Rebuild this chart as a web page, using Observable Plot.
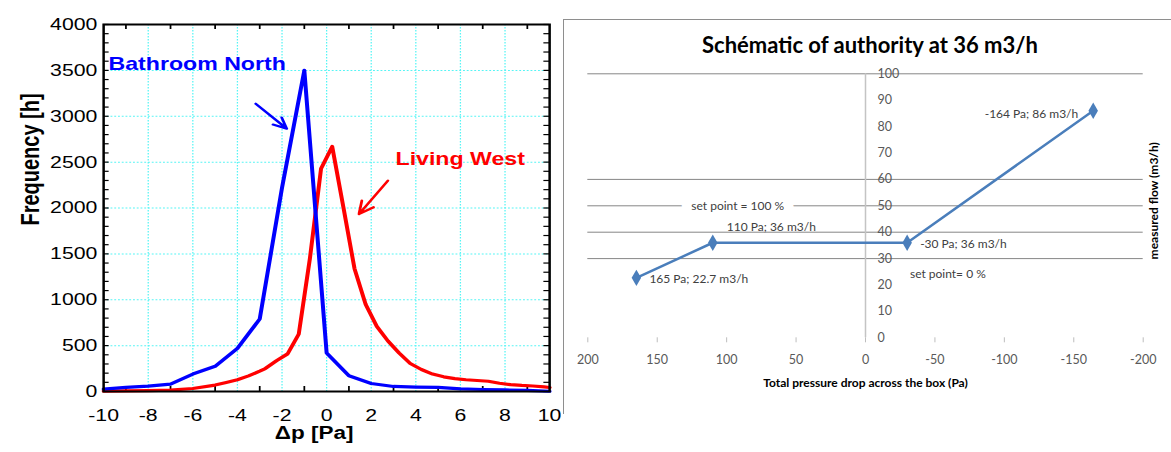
<!DOCTYPE html>
<html><head><meta charset="utf-8">
<script src="https://cdn.jsdelivr.net/npm/d3@7"></script>
<script src="https://cdn.jsdelivr.net/npm/@observablehq/plot@0.6"></script>
<style>
html,body{margin:0;padding:0;background:#fff}
body{width:1171px;height:452px;overflow:hidden;position:relative;font-family:"Liberation Sans",Arial,sans-serif}
#left{position:absolute;left:0;top:0;transform:scaleX(1.25);transform-origin:0 0}
#right{position:absolute;left:563px;top:0}
#box{position:absolute;left:563px;top:19px;width:700px;height:394px;border-left:1px solid #8e8e8e;border-top:1px solid #8e8e8e;pointer-events:none}
#title{position:absolute;left:566px;width:608px;top:31px;text-align:center;font:bold 22px Lato,"Open Sans",sans-serif;color:#000;white-space:nowrap}
svg{background:transparent}
</style></head><body>
<div id="left"></div><div id="right"></div><div id="box"></div>
<div id="title">Schématic of authority at 36 m3/h</div>
<script>
// ---------- Left panel: frequency distributions ----------
const dpBathroom   = [-10,-9,-8,-7,-6,-5,-4,-3,-2,-1,0,1,2,3,4,5,6,7,8,9,10];
const freqBathroom = [25,45,58,80,190,275,470,790,2220,3500,420,171,87,55,48,44,28,22,17,12,3];
const dpLiving   = [-10,-9,-8,-7,-6,-5,-4.5,-4,-3.5,-3,-2.75,-2.25,-1.75,-1.25,-0.75,-0.25,0.25,0.75,1.25,1.75,2.25,2.75,3.25,3.75,4.25,4.75,5.25,5.75,6.25,6.75,7.25,7.75,8.25,8.75,9.25,9.75,10];
const freqLiving = [5,7,10,15,33,70,98,128,170,222,250,335,410,625,1450,2430,2670,2010,1340,950,710,550,420,305,240,190,160,140,128,120,112,90,75,66,60,50,44];
const seriesNames = ["Bathroom North", "Living West"];
const xTickLabels = [-10,-8,-6,-4,-2,0,2,4,6,8,10];
const xMinorTicks = [-9,-7,-5,-3,-1,1,3,5,7,9];
const yTickLabels = [0,500,1000,1500,2000,2500,3000,3500,4000];
const yMinorTicks = d3.range(0, 4001, 100);
const leftAxisTitles = ["Frequency [h]", "Δp [Pa]"];
// annotation anchors in data units
const nameAt  = [{x:-9.78, y:3574}, {x:3.09, y:2538}];
const arrowAt = [{x1:-3.18, y1:3137, x2:-1.79, y2:2865}, {x1:2.75, y1:2298, x2:1.45, y2:1934}];

// ---------- Right panel: authority schematic ----------
const pressure = [165, 110, -30, -164];
const flow = [22.7, 36, 36, 86];
const pointLabels = ["165 Pa; 22.7 m3/h", "110 Pa; 36 m3/h", "-30 Pa; 36 m3/h", "-164 Pa; 86 m3/h"];
const xTicksR = [200,150,100,50,0,-50,-100,-150,-200];
const yTicksR = [0,10,20,30,40,50,60,70,80,90,100];
const gridR = [30,40,50,60,100];
const setPointLabels = ["set point = 100 %", "set point= 0 %"];
const setPointAt = [{x:92, y:50}, {x:-32, y:24}];
const rightAxisTitles = ["Total pressure drop across the box (Pa)", "measured flow (m3/h)"];

const blue = "#0000ff", red = "#ff0000";
const bathroom = dpBathroom.map((d,i)=>({dp:d, f:freqBathroom[i]}));
const living = dpLiving.map((d,i)=>({dp:d, f:freqLiving[i]}));
const W0 = 452, mL = 82.4, mR = 12.8, mT = 24, mB = 61;
const fw = W0 - mL - mR, fh = 452 - mT - mB;
const grid = {stroke:"#55f5f5", strokeOpacity:1, strokeDasharray:"1.5,1.5", strokeWidth:1};

const leftPlot = Plot.plot({
  width: W0, height: 452, marginLeft: mL, marginRight: mR, marginTop: mT, marginBottom: mB,
  style: {background:"transparent", fontFamily:"'Liberation Sans', Arial, sans-serif", fontSize:"17px", color:"#000"},
  x: {domain:[-10,10], ticks:xTickLabels, tickFormat:d=>String(d), tickSize:0, tickPadding:17, label:null},
  y: {domain:[0,4000], ticks:yTickLabels, tickFormat:d=>String(d), tickSize:0, tickPadding:5, label:null},
  marks: [
    Plot.gridX(xTickLabels, grid),
    Plot.gridY(yTickLabels, grid),
    Plot.tickX(xMinorTicks, {x:d=>d, insetTop: fh-5, stroke:"#000", strokeWidth:1.4}),
    Plot.tickX(xMinorTicks, {x:d=>d, insetBottom: fh-5, stroke:"#000", strokeWidth:1.4}),
    Plot.tickY(yMinorTicks, {y:d=>d, insetRight: fw-4.5, stroke:"#000", strokeWidth:1.2}),
    Plot.tickY(yMinorTicks, {y:d=>d, insetLeft: fw-4.5, stroke:"#000", strokeWidth:1.2}),
    Plot.line(living, {x:"dp", y:"f", stroke:red, strokeWidth:3.2}),
    Plot.line(bathroom, {x:"dp", y:"f", stroke:blue, strokeWidth:3.2}),
    Plot.frame({stroke:"#000", strokeWidth:2}),
    Plot.text([seriesNames[0]], {x:nameAt[0].x, y:nameAt[0].y, text:d=>d, fill:blue, fontWeight:"bold", fontSize:18.5, textAnchor:"start"}),
    Plot.text([seriesNames[1]], {x:nameAt[1].x, y:nameAt[1].y, text:d=>d, fill:red, fontWeight:"bold", fontSize:18.5, textAnchor:"start"}),
    Plot.arrow([arrowAt[0]], {x1:"x1", y1:"y1", x2:"x2", y2:"y2", stroke:blue, strokeWidth:2.2, headLength:11, headAngle:50}),
    Plot.arrow([arrowAt[1]], {x1:"x1", y1:"y1", x2:"x2", y2:"y2", stroke:red, strokeWidth:2.2, headLength:11, headAngle:50}),
    Plot.text([leftAxisTitles[0]], {frameAnchor:"top-left", dx:-65.6, dy:135, rotate:-90, textAnchor:"middle", text:d=>d, fontWeight:"bold", fontSize:20}),
    Plot.text([leftAxisTitles[1]], {frameAnchor:"bottom", dx:-10, dy:47, text:d=>d, fontWeight:"bold", fontSize:18})
  ]
});
document.getElementById("left").appendChild(leftPlot);

const pts = pressure.map((p,i)=>({p, f:flow[i], label:pointLabels[i]}));
const lineBlue = "#4a7ebb", txt = "#404040";
const rightPlot = Plot.plot({
  width: 608, height: 452, marginLeft: 24.3, marginRight: 28.3, marginTop: 73.3, marginBottom: 114.7,
  style: {background:"transparent", fontFamily:"Lato, 'Open Sans', sans-serif", fontSize:"12px", color:txt},
  x: {domain:[200,-200]},
  y: {domain:[0,100], axis:null},
  marks: [
    Plot.ruleY(gridR, {stroke:"#868686", strokeWidth:1}),
    Plot.ruleX([0], {y1:0, y2:100, stroke:"#c4c4c4", strokeWidth:1.5}),
    Plot.axisX({ticks:xTicksR, tickFormat:d=>String(d), tickSize:5, tickPadding:12, stroke:"#bdbdbd", fill:"#595959", label:null, fontSize:12.5}),
    Plot.text(yTicksR, {x:0, y:d=>d, text:d=>String(d), dx:12, textAnchor:"start", fill:"#595959", fontSize:12.5}),
    Plot.text([setPointLabels[0]], {x:setPointAt[0].x, y:setPointAt[0].y, text:d=>d, fill:txt, stroke:"#fff", strokeWidth:20}),
    Plot.text([setPointLabels[1]], {x:setPointAt[1].x, y:setPointAt[1].y, text:d=>d, fill:txt, textAnchor:"start"}),
    Plot.line(pts, {x:"p", y:"f", stroke:lineBlue, strokeWidth:2.5}),
    Plot.dot(pts, {x:"p", y:"f", symbol:"diamond", fill:lineBlue, r:5}),
    Plot.text([pts[0]], {x:"p", y:"f", text:"label", dx:13, dy:1, textAnchor:"start", fill:txt}),
    Plot.text([pts[1]], {x:"p", y:"f", text:"label", dx:14, dy:-16, textAnchor:"start", fill:txt}),
    Plot.text([pts[2]], {x:"p", y:"f", text:"label", dx:13, dy:1, textAnchor:"start", fill:txt}),
    Plot.text([pts[3]], {x:"p", y:"f", text:"label", dx:-15, dy:3, textAnchor:"end", fill:txt}),
    Plot.text([rightAxisTitles[0]], {frameAnchor:"bottom", dy:48.7, text:d=>d, fontWeight:"bold", fill:"#000", fontSize:12}),
    Plot.text([rightAxisTitles[1]], {frameAnchor:"right", dx:10.5, dy:-5, rotate:-90, textAnchor:"middle", text:d=>d, fontWeight:"bold", fill:"#000", fontSize:12})
  ]
});
document.getElementById("right").appendChild(rightPlot);
</script>
</body></html>
